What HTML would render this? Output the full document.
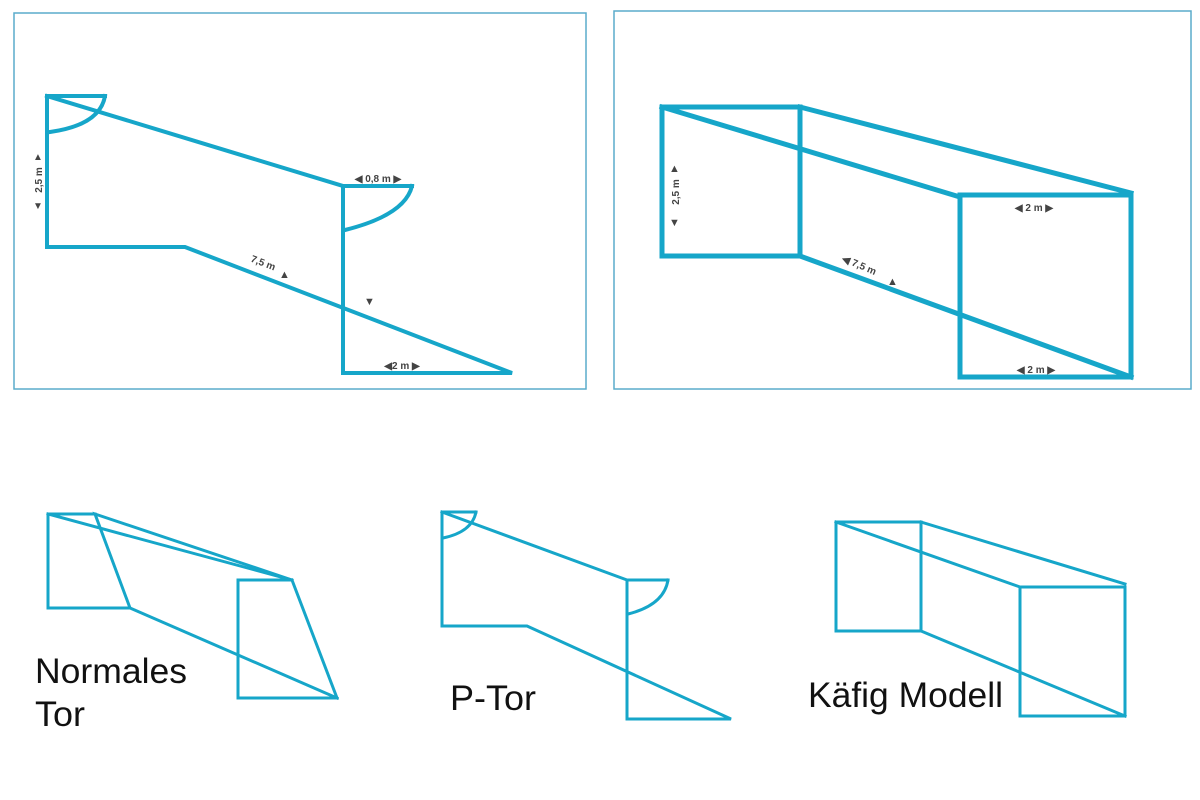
<!DOCTYPE html>
<html><head><meta charset="utf-8"><style>
html,body{margin:0;padding:0;background:#fff;width:1200px;height:800px;overflow:hidden}
svg{display:block}
.s{fill:none;stroke:#16a6c9;stroke-linejoin:miter;stroke-linecap:square}
.l{font-family:"Liberation Sans",sans-serif;font-size:10px;font-weight:bold;fill:#444}
.b{font-family:"Liberation Sans",sans-serif;font-size:35px;fill:#111}
</style></head><body>
<svg width="1200" height="800" viewBox="0 0 1200 800" xmlns="http://www.w3.org/2000/svg">
<rect x="14" y="13" width="572" height="376" fill="none" stroke="#5aaccb" stroke-width="1.5"/>
<rect x="614" y="11" width="577" height="378" fill="none" stroke="#5aaccb" stroke-width="1.5"/>

<!-- panel 1 -->
<g class="s" stroke-width="4">
<polyline points="105,96 47,96 47,247 185,247 512,373 343,373 343,186 412,186"/>
<line x1="47" y1="96" x2="343" y2="186"/>
<path d="M105,96 Q100,125 50,132"/>
<path d="M412,186 Q405,215 345,230"/>
</g>
<g class="l">
<text transform="translate(42,180) rotate(-90)" text-anchor="middle">2,5 m</text>
<text x="33" y="160" font-size="10">▲</text>
<text x="33" y="209" font-size="10">▼</text>
<text x="378" y="182" text-anchor="middle">◀ 0,8 m ▶</text>
<text transform="translate(262,266) rotate(21)" text-anchor="middle">7,5 m</text>
<text x="279" y="278" font-size="11">▲</text>
<text x="364" y="305" font-size="11">▼</text>
<text x="402" y="369" text-anchor="middle">◀2 m ▶</text>
</g>

<!-- panel 2 -->
<g class="s" stroke-width="5">
<rect x="662" y="107" width="138" height="149"/>
<line x1="800" y1="107" x2="1131" y2="193"/>
<line x1="662" y1="107" x2="960" y2="197"/>
<rect x="960" y="195" width="171" height="182"/>
<line x1="800" y1="256" x2="1131" y2="377"/>
</g>
<g class="l">
<text transform="translate(679,192) rotate(-90)" text-anchor="middle">2,5 m</text>
<text x="669" y="172" font-size="11">▲</text>
<text x="669" y="226" font-size="11">▼</text>
<text x="1034" y="211" text-anchor="middle">◀ 2 m ▶</text>
<text x="1036" y="373" text-anchor="middle">◀ 2 m ▶</text>
<text transform="translate(858,268) rotate(23)" text-anchor="middle">◀ 7,5 m</text>
<text x="887" y="285" font-size="11">▲</text>
</g>

<!-- bottom: normales tor -->
<g class="s" stroke-width="3">
<polyline points="95,514 48,514 48,608 130,608 95,514 292,580 238,580 238,698 337,698 292,580"/>
<line x1="48" y1="514" x2="292" y2="580"/>
<line x1="130" y1="608" x2="337" y2="698"/>
</g>
<text class="b" x="35" y="683" textLength="152" lengthAdjust="spacingAndGlyphs">Normales</text>
<text class="b" x="35" y="726" textLength="50" lengthAdjust="spacingAndGlyphs">Tor</text>

<!-- P-Tor -->
<g class="s" stroke-width="3">
<polyline points="476,512 442,512 442,626 527,626 731,719 627,719 627,580 668,580"/>
<line x1="442" y1="512" x2="627" y2="580"/>
<path d="M476,512 Q472,532 443,538"/>
<path d="M668,580 Q664,605 628,614"/>
</g>
<text class="b" x="450" y="710" textLength="86" lengthAdjust="spacingAndGlyphs">P-Tor</text>

<!-- Käfig -->
<g class="s" stroke-width="3">
<rect x="836" y="522" width="85" height="109"/>
<line x1="921" y1="522" x2="1125" y2="584"/>
<line x1="836" y1="522" x2="1020" y2="587"/>
<rect x="1020" y="587" width="105" height="129"/>
<line x1="921" y1="631" x2="1125" y2="716"/>
</g>
<text class="b" x="808" y="707" textLength="195" lengthAdjust="spacingAndGlyphs">Käfig Modell</text>
</svg>
</body></html>
